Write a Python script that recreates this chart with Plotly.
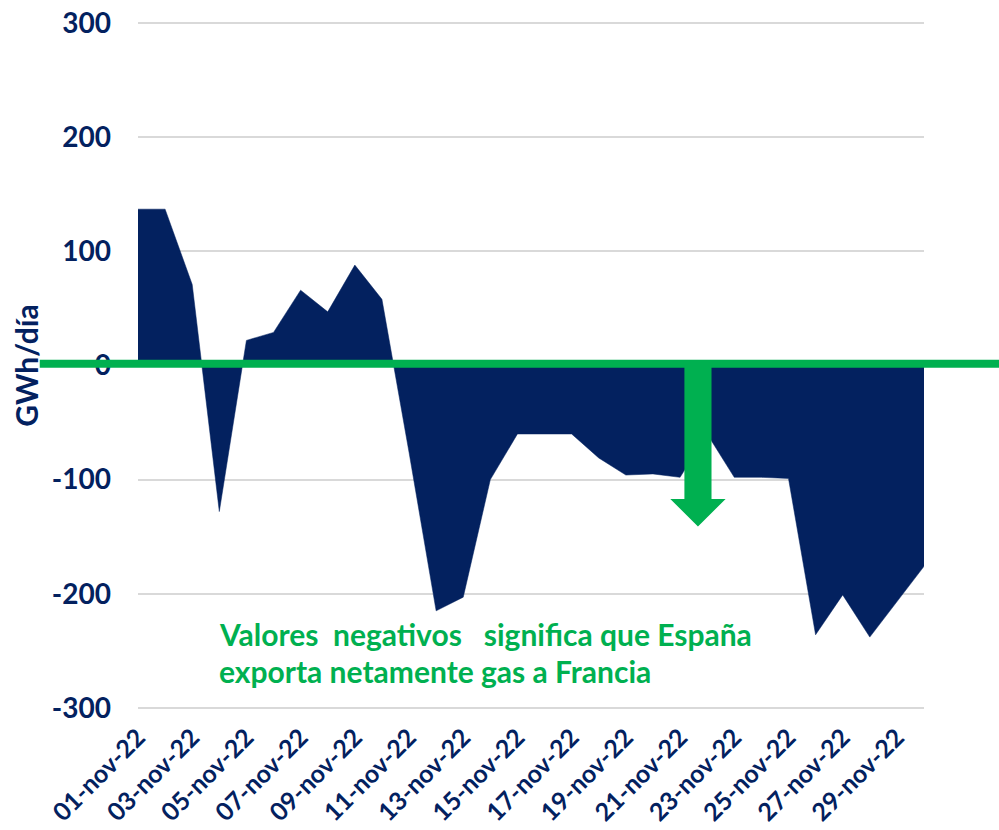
import plotly.graph_objects as go

days = list(range(1, 31))
flow_gwh = [137, 137, 71, -128, 22, 29, 66, 47, 88, 58,
            -76, -215, -203, -100, -60, -60, -60, -81, -96, -95,
            -98, -60, -98, -98, -99, -236, -201, -238, -207, -176]
tick_days = list(range(1, 30, 2))
tick_labels = [f"{d:02d}-nov-22" for d in tick_days]
y_ticks = [-300, -200, -100, 0, 100, 200, 300]
y_tick_labels = ["-300", "-200", "-100", "0", "100", "200", "300"]

NAVY = "#03215F"
GREEN = "#00B050"
FONT = "Lato"

fig = go.Figure()
fig.add_trace(go.Scatter(
    x=days, y=flow_gwh, mode="lines", fill="tozeroy",
    line=dict(color=NAVY, width=0.5), fillcolor=NAVY,
    hoverinfo="x+y", showlegend=False,
))

# green reference line at zero
fig.add_shape(type="line", xref="paper", yref="y",
              x0=-0.125, x1=1.1, y0=1.5, y1=1.5,
              line=dict(color=GREEN, width=8), layer="above")

# green down arrow
ax_c, shaft_hw, head_hw = 21.66, 0.5, 1.02
y_base, y_tip = -117, -141
path = (f"M {ax_c-shaft_hw},0 L {ax_c+shaft_hw},0 L {ax_c+shaft_hw},{y_base} "
        f"L {ax_c+head_hw},{y_base} L {ax_c},{y_tip} L {ax_c-head_hw},{y_base} "
        f"L {ax_c-shaft_hw},{y_base} Z")
fig.add_shape(type="path", path=path, xref="x", yref="y",
              fillcolor=GREEN, line=dict(color=GREEN, width=0), layer="above")

fig.add_annotation(xref="paper", yref="y", x=0.1, y=-235, xanchor="left", yanchor="middle",
                   text="<b>Valores  negativos   significa que España</b>", showarrow=False,
                   font=dict(family=FONT, size=30, color=GREEN))
fig.add_annotation(xref="paper", yref="y", x=0.1, y=-268, xanchor="left", yanchor="middle",
                   text="<b>exporta netamente gas a Francia</b>", showarrow=False,
                   font=dict(family=FONT, size=30, color=GREEN))

fig.update_layout(
    width=999, height=830,
    margin=dict(l=138, r=75, t=22, b=121, autoexpand=False),
    paper_bgcolor="white", plot_bgcolor="white",
    font=dict(family=FONT, color=NAVY),
)
fig.update_xaxes(
    range=[1, 30], tickmode="array", tickvals=tick_days, ticktext=tick_labels,
    tickangle=-45, tickfont=dict(family=FONT, size=25, color=NAVY, weight="bold"),
    showgrid=False, zeroline=False, showline=False, ticks="", automargin=False,
    ticklabelstandoff=8,
)
fig.update_yaxes(
    range=[-301, 301], tickmode="array", tickvals=y_ticks, ticktext=y_tick_labels,
    tickfont=dict(family=FONT, size=28, color=NAVY, weight="bold"),
    showgrid=True, gridcolor="#D9D9D9", gridwidth=2, zeroline=False, showline=False,
    ticks="", ticklabelstandoff=26, automargin=False,
    title=dict(text="GWh/día", font=dict(family=FONT, size=30, color=NAVY, weight="bold"), standoff=4),
)

fig.write_html("out.html", config={"displayModeBar": False},
               post_script="document.body.style.margin='0';")
